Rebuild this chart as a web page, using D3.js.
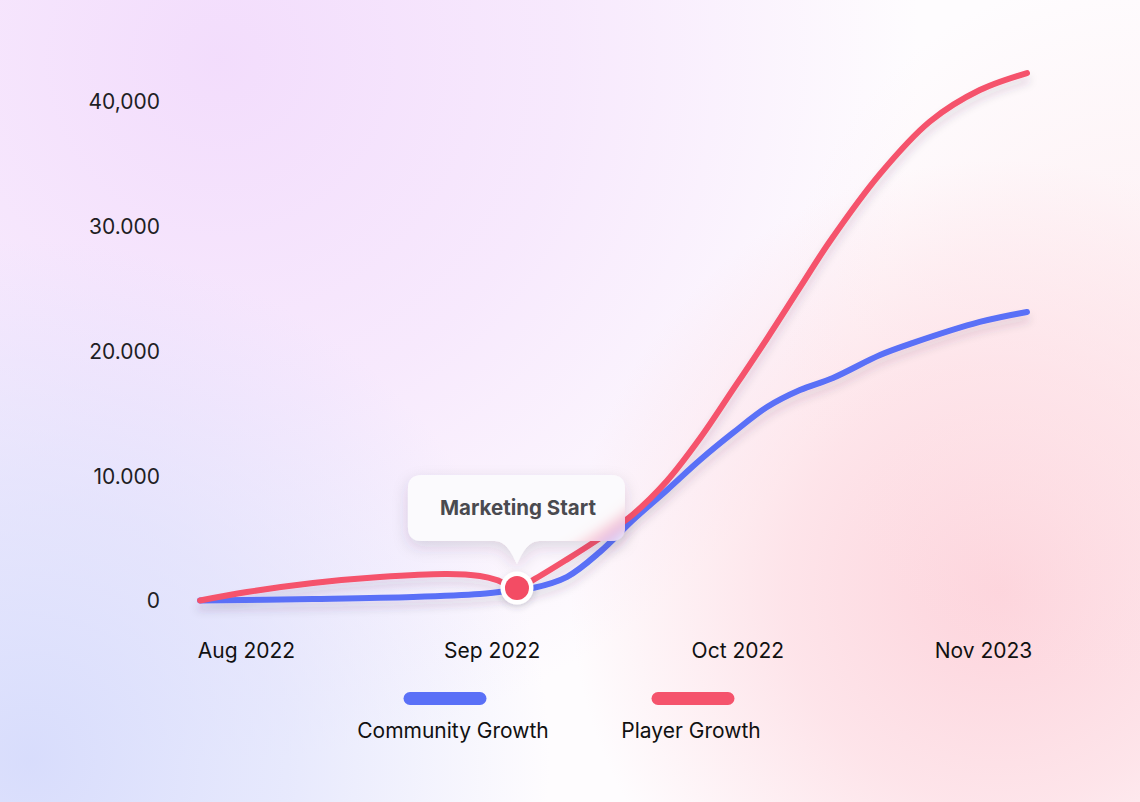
<!DOCTYPE html>
<html><head><meta charset="utf-8">
<script src="https://cdn.jsdelivr.net/npm/d3@7"></script>
<style>html,body{margin:0;padding:0;overflow:hidden;background:#fff}</style>
</head><body>
<svg id="c" width="1140" height="802"></svg>
<script>
// ---- data ----
const xTickValues = [0, 1, 2, 3];
const xTickLabels = ["Aug 2022", "Sep 2022", "Oct 2022", "Nov 2023"];
const yTickValues = [0, 10000, 20000, 30000, 40000];
const yTickLabels = ["0", "10.000", "20.000", "30.000", "40,000"];

// time position (month index, fractional) and values
const playerT = [-0.187, 0.004, 0.273, 0.545, 0.818, 0.952, 1.022, 1.103, 1.168, 1.307, 1.441, 1.575, 1.714, 1.848, 1.982, 2.121, 2.255, 2.377, 2.581, 2.784, 2.987, 3.179];
const playerV = [0, 680, 1400, 1880, 2120, 1960, 1640, 1000, 1640, 3300, 5000, 6900, 9600, 13000, 16900, 21000, 25100, 28800, 34200, 38400, 40920, 42280];
const communityT = [-0.187, 0.273, 0.68, 0.952, 1.103, 1.168, 1.307, 1.441, 1.575, 1.714, 1.848, 1.982, 2.121, 2.255, 2.389, 2.581, 2.715, 2.987, 3.179];
const communityV = [0, 120, 280, 520, 840, 1000, 1900, 3900, 6450, 8860, 11260, 13430, 15510, 16870, 17840, 19680, 20650, 22330, 23130];

const seriesNames = ["Community Growth", "Player Growth"];
const seriesColors = ["#5a70f7", "#f5536c"];
const annotationText = "Marketing Start";
const annotationT = 1.103;
const annotationV = 1000;

// ---- setup ----
const W = 1140, H = 802;
const svg = d3.select("#c");
const x = d3.scaleLinear().domain([0, 3]).range([246, 983]);
const y = d3.scaleLinear().domain([0, 40000]).range([600.5, 101.5]);
const FONT = "Inter, Lato, sans-serif";

const defs = svg.append("defs");
function radial(id, cx, cy, r, color, op) {
  const g = defs.append("radialGradient").attr("id", id).attr("gradientUnits", "userSpaceOnUse")
    .attr("cx", cx).attr("cy", cy).attr("r", r);
  g.append("stop").attr("offset", "0%").attr("stop-color", color).attr("stop-opacity", op);
  g.append("stop").attr("offset", "50%").attr("stop-color", color).attr("stop-opacity", op * 0.6);
  g.append("stop").attr("offset", "100%").attr("stop-color", color).attr("stop-opacity", 0);
}
radial("gTL", 220, 60, 700, "#f2dbfc", 0.95);
radial("gBL", 30, 760, 520, "#d6dbfc", 0.95);
radial("gBR", 1000, 590, 430, "#fdcdd6", 0.85);
radial("gR", 1140, 330, 360, "#fde3e8", 0.45);

const sh = defs.append("filter").attr("id", "lineShadow").attr("x", "-10%").attr("y", "-10%").attr("width", "120%").attr("height", "130%");
sh.append("feDropShadow").attr("dx", 0).attr("dy", 7).attr("stdDeviation", 4).attr("flood-color", "#3a3550").attr("flood-opacity", 0.16);

const tsh = defs.append("filter").attr("id", "tipShadow").attr("x", "-30%").attr("y", "-30%").attr("width", "160%").attr("height", "180%");
tsh.append("feDropShadow").attr("dx", 0).attr("dy", 6).attr("stdDeviation", 8).attr("flood-color", "#3a3550").attr("flood-opacity", 0.16);

const blur = defs.append("filter").attr("id", "blur").attr("x", "-20%").attr("y", "-20%").attr("width", "140%").attr("height", "140%");
blur.append("feGaussianBlur").attr("stdDeviation", 7);

const dsh = defs.append("filter").attr("id", "dotShadow").attr("x", "-60%").attr("y", "-60%").attr("width", "220%").attr("height", "220%");
dsh.append("feDropShadow").attr("dx", 0).attr("dy", 3).attr("stdDeviation", 3).attr("flood-color", "#3a3550").attr("flood-opacity", 0.18);

// background
svg.append("rect").attr("width", W).attr("height", H).attr("fill", "#fefcfe");
["gTL", "gBL", "gBR", "gR"].forEach(id =>
  svg.append("rect").attr("width", W).attr("height", H).attr("fill", `url(#${id})`));

// axes (text only)
const yAxis = d3.axisLeft(y).tickValues(yTickValues).tickFormat((d, i) => yTickLabels[i]).tickSize(0).tickPadding(0);
const yg = svg.append("g").attr("transform", "translate(160,0)").call(yAxis);
yg.select(".domain").remove();
yg.selectAll("text").attr("font-family", FONT).attr("font-size", 21).attr("fill", "#1e1e24").attr("dy", "0.35em");

const xAxis = d3.axisBottom(x).tickValues(xTickValues).tickFormat((d, i) => xTickLabels[i]).tickSize(0).tickPadding(0);
const xg = svg.append("g").attr("transform", "translate(0,651)").call(xAxis);
xg.select(".domain").remove();
xg.selectAll("text").attr("font-family", FONT).attr("font-size", 21).attr("fill", "#111").attr("dy", "0.35em");

// lines
const line = d3.line().x(d => x(d[0])).y(d => y(d[1])).curve(d3.curveCatmullRom.alpha(0.5));
const community = communityT.map((t, i) => [t, communityV[i]]);
const player = playerT.map((t, i) => [t, playerV[i]]);
const seriesData = [community, player];

const lg = svg.append("g").attr("filter", "url(#lineShadow)");
seriesData.forEach((s, i) => {
  lg.append("path").attr("d", line(s)).attr("fill", "none").attr("stroke", seriesColors[i])
    .attr("stroke-width", 6).attr("stroke-linecap", "round").attr("stroke-linejoin", "round");
});

// annotation tooltip
const mx = x(annotationT), my = y(annotationV);
const bw = 217, bh = 66, r = 14;
const bx = mx - 109, by = my - 113;
const tipY = my - 24;
const pw = 22;
const tipPath = `M${bx + r},${by} H${bx + bw - r} Q${bx + bw},${by} ${bx + bw},${by + r} V${by + bh - r} Q${bx + bw},${by + bh} ${bx + bw - r},${by + bh}
 H${mx + pw} C${mx + 10},${by + bh} ${mx + 4},${tipY - 8} ${mx},${tipY} C${mx - 4},${tipY - 8} ${mx - 10},${by + bh} ${mx - pw},${by + bh}
 H${bx + r} Q${bx},${by + bh} ${bx},${by + bh - r} V${by + r} Q${bx},${by} ${bx + r},${by} Z`;

defs.append("clipPath").attr("id", "tipClip").append("path").attr("d", tipPath);

const tg = svg.append("g");
tg.append("path").attr("d", tipPath).attr("fill", "#fbf9fc").attr("filter", "url(#tipShadow)");
// backdrop blur imitation
const bg = tg.append("g").attr("clip-path", "url(#tipClip)").append("g").attr("filter", "url(#blur)");
seriesData.forEach((s, i) => {
  bg.append("path").attr("d", line(s)).attr("fill", "none").attr("stroke", seriesColors[i])
    .attr("stroke-width", 10).attr("stroke-opacity", 0.85);
});
tg.append("path").attr("d", tipPath).attr("fill", "#fcfbfd").attr("fill-opacity", 0.55);
tg.append("text").attr("x", mx + 1).attr("y", by + bh / 2 + 7).attr("text-anchor", "middle")
  .attr("font-family", FONT).attr("font-weight", 700).attr("font-size", 20.5)
  .attr("fill", "#4a4a50").text(annotationText);

// marker
svg.append("circle").attr("cx", mx).attr("cy", my).attr("r", 15).attr("fill", "#fff")
  .attr("stroke", "#fff").attr("stroke-width", 3).attr("filter", "url(#dotShadow)");
svg.append("circle").attr("cx", mx).attr("cy", my).attr("r", 12).attr("fill", "#f34c64");

// legend
const legendX = [445, 693];
const legendTextX = [453, 691];
seriesNames.forEach((n, i) => {
  svg.append("rect").attr("x", legendX[i] - 41.5).attr("y", 692).attr("width", 83).attr("height", 13)
    .attr("rx", 6.5).attr("fill", seriesColors[i]);
  svg.append("text").attr("x", legendTextX[i]).attr("y", 738).attr("text-anchor", "middle")
    .attr("font-family", FONT).attr("font-size", 21).attr("fill", "#111").text(n);
});
</script>
</body></html>
